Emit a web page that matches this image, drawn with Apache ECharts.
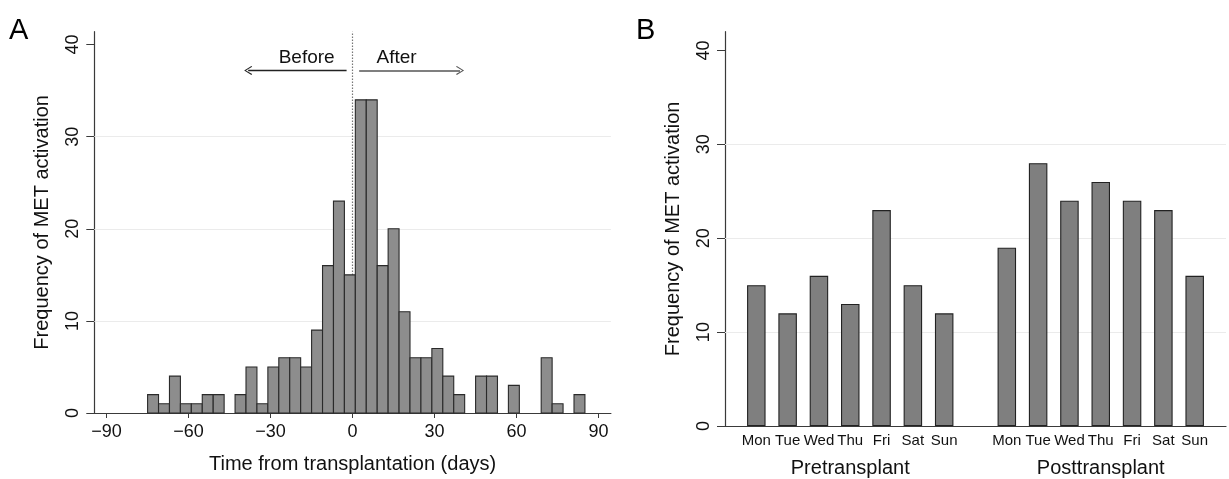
<!DOCTYPE html>
<html>
<head>
    <meta charset="utf-8">
    <title>MET activation</title>
    <script src="https://cdn.jsdelivr.net/npm/echarts@6/dist/echarts.min.js"></script>
    <style>
        html, body { margin: 0; padding: 0; background: #fff; }
        #main { width: 1229px; height: 479px; }
    </style>
</head>
<body>
<div id="main"></div>
<script type="text/javascript">
    // panel A: histogram, 4-day bins (left edge of each bin)
    var binLeft = [-75, -71, -67, -63, -59, -55, -51, -47, -43, -39,
                   -35, -31, -27, -23, -19, -15, -11, -7, -3, 1,
                   5, 9, 13, 17, 21, 25, 29, 33, 37, 41,
                   45, 49, 53, 57, 61, 65, 69, 73, 77, 81];
    var countsA = [2, 1, 4, 1, 1, 2, 2, 0, 2, 5,
                   1, 5, 6, 6, 5, 9, 16, 23, 15, 34,
                   34, 16, 20, 11, 6, 6, 7, 4, 2, 0,
                   4, 4, 0, 3, 0, 0, 6, 1, 0, 2];
    var binWidth = 4;
    var xTicksA = [-90, -60, -30, 0, 30, 60, 90];
    var yTicks = [0, 10, 20, 30, 40];
    var gridLines = [10, 20, 30];

    // panel B: weekday counts
    var days = ['Mon', 'Tue', 'Wed', 'Thu', 'Fri', 'Sat', 'Sun'];
    var groups = ['Pretransplant', 'Posttransplant'];
    var preCounts = [15, 12, 16, 13, 23, 15, 12];
    var postCounts = [19, 28, 24, 26, 24, 23, 16];

    var font = '"Liberation Sans", Arial, sans-serif';
    var axisColor = '#3a3a3a';

    // slot on the B axis: pre days 0..6, one empty slot, post days 8..14
    var slotLabels = days.concat(['']).concat(days);
    var barsB = [];
    preCounts.forEach(function (v, i) { barsB.push([i, v]); });
    postCounts.forEach(function (v, i) { barsB.push([i + days.length + 1, v]); });
    var groupCenters = [(days.length - 1) / 2, days.length + 1 + (days.length - 1) / 2];

    var histData = binLeft.map(function (b, i) { return [b, countsA[i]]; });

    var chevron = 'path://M5,0 L10,9 L9,10 L5,2.2 L1,10 L0,9 Z';

    var myChart = echarts.init(document.getElementById('main'));

    function yAxisOpt(gridIndex, max) {
        return {
            type: 'value',
            gridIndex: gridIndex,
            min: 0,
            max: max,
            name: 'Frequency of MET activation',
            nameLocation: 'middle',
            nameGap: 42,
            nameTextStyle: { fontFamily: font, fontSize: 20, color: '#111' },
            axisLine: { show: true, onZero: false, lineStyle: { color: axisColor, width: 1.2 } },
            axisTick: { show: true, length: 8, customValues: yTicks, lineStyle: { color: axisColor } },
            axisLabel: {
                customValues: yTicks,
                rotate: 90,
                margin: 12,
                fontFamily: font,
                fontSize: 18,
                color: '#111'
            },
            splitLine: { show: false }
        };
    }

    function gridLineMark(extra) {
        return {
            silent: true,
            symbol: 'none',
            z: 1,
            label: { show: false },
            animation: false,
            data: gridLines.map(function (g) {
                return { yAxis: g, lineStyle: { color: '#ebebeb', width: 1, type: 'solid' } };
            }).concat(extra)
        };
    }

    myChart.setOption({
        animation: false,
        grid: [
            { left: 94.3, top: 31.7, width: 516.6, height: 382.6 },
            { left: 725, top: 31.7, width: 507, height: 394.3 }
        ],
        xAxis: [
            {
                type: 'value',
                gridIndex: 0,
                position: 'bottom',
                min: -94.5,
                max: 94.5,
                name: 'Time from transplantation (days)',
                nameLocation: 'middle',
                nameGap: 41,
                nameTextStyle: { fontFamily: font, fontSize: 20, color: '#111' },
                axisLine: { show: true, onZero: false, lineStyle: { color: axisColor, width: 1.2 } },
                axisTick: { show: true, length: 5, customValues: xTicksA, lineStyle: { color: axisColor } },
                axisLabel: {
                    customValues: xTicksA,
                    margin: 10,
                    fontFamily: font,
                    fontSize: 18,
                    color: '#111',
                    formatter: function (v) { return v < 0 ? '\u2212' + Math.abs(v) : String(v); }
                },
                splitLine: { show: false }
            },
            {
                type: 'value',
                gridIndex: 1,
                position: 'bottom',
                min: -1,
                max: 15,
                interval: 1,
                axisLine: { show: true, onZero: false, lineStyle: { color: axisColor, width: 1.2 } },
                axisTick: { show: false },
                axisLabel: {
                    margin: 7,
                    fontFamily: font,
                    fontSize: 15,
                    color: '#111',
                    formatter: function (v) { return slotLabels[v] || ''; }
                },
                splitLine: { show: false }
            },
            {
                type: 'value',
                gridIndex: 1,
                position: 'bottom',
                min: -1,
                max: 15,
                axisLine: { show: false, onZero: false },
                axisTick: { show: false },
                axisLabel: {
                    customValues: groupCenters,
                    margin: 32,
                    fontFamily: font,
                    fontSize: 20,
                    color: '#111',
                    formatter: function (v) { return v === groupCenters[0] ? groups[0] : groups[1]; }
                },
                splitLine: { show: false }
            }
        ],
        yAxis: [yAxisOpt(0, 41.4), yAxisOpt(1, 42)],
        graphic: [
            { type: 'text', left: 9, top: 16, style: { text: 'A', font: '29px ' + font, fill: '#000' } },
            { type: 'text', left: 636, top: 16, style: { text: 'B', font: '29px ' + font, fill: '#000' } }
        ],
        series: [
            {
                // gridlines + zero line under the bars
                type: 'line',
                xAxisIndex: 0,
                yAxisIndex: 0,
                data: [],
                z: 1,
                markLine: gridLineMark([{ xAxis: 0, lineStyle: { color: '#777', width: 1.2, type: [1.5, 1.5] } }])
            },
            {
                type: 'custom',
                xAxisIndex: 0,
                yAxisIndex: 0,
                z: 3,
                data: histData,
                renderItem: function (params, api) {
                    var x0 = api.value(0), n = api.value(1);
                    if (!n) return null;
                    var p0 = api.coord([x0, n]);
                    var p1 = api.coord([x0 + binWidth, 0]);
                    return {
                        type: 'rect',
                        shape: { x: p0[0], y: p0[1], width: p1[0] - p0[0], height: p1[1] - p0[1] },
                        style: { fill: '#8d8d8d', stroke: '#2a2a2a', lineWidth: 1.1 }
                    };
                },
                markLine: {
                    silent: true,
                    label: { show: false },
                    animation: false,
                    symbol: ['none', chevron],
                    symbolSize: [9, 8],
                    data: [
                        [{ coord: [-2.2, 37.2], lineStyle: { color: '#222', width: 1.4, type: 'solid' } }, { coord: [-38.2, 37.2] }],
                        [{ coord: [2.4, 37.2], lineStyle: { color: '#555', width: 1.6, type: 'solid' } }, { coord: [39.3, 37.2] }]
                    ]
                },
                markPoint: {
                    silent: true,
                    symbol: 'circle',
                    symbolSize: 0,
                    label: { show: true, position: 'inside', formatter: '{b}', fontFamily: font, fontSize: 19, color: '#111' },
                    data: [
                        { name: 'Before', coord: [-16.8, 38.6] },
                        { name: 'After', coord: [16.1, 38.6] }
                    ]
                }
            },
            {
                type: 'line',
                xAxisIndex: 1,
                yAxisIndex: 1,
                data: [],
                z: 1,
                markLine: gridLineMark([])
            },
            {
                type: 'bar',
                xAxisIndex: 1,
                yAxisIndex: 1,
                z: 3,
                barWidth: 18.5,
                data: barsB,
                itemStyle: { color: '#7f7f7f', borderColor: '#222', borderWidth: 1.1 }
            }
        ]
    });
</script>
</body>
</html>
